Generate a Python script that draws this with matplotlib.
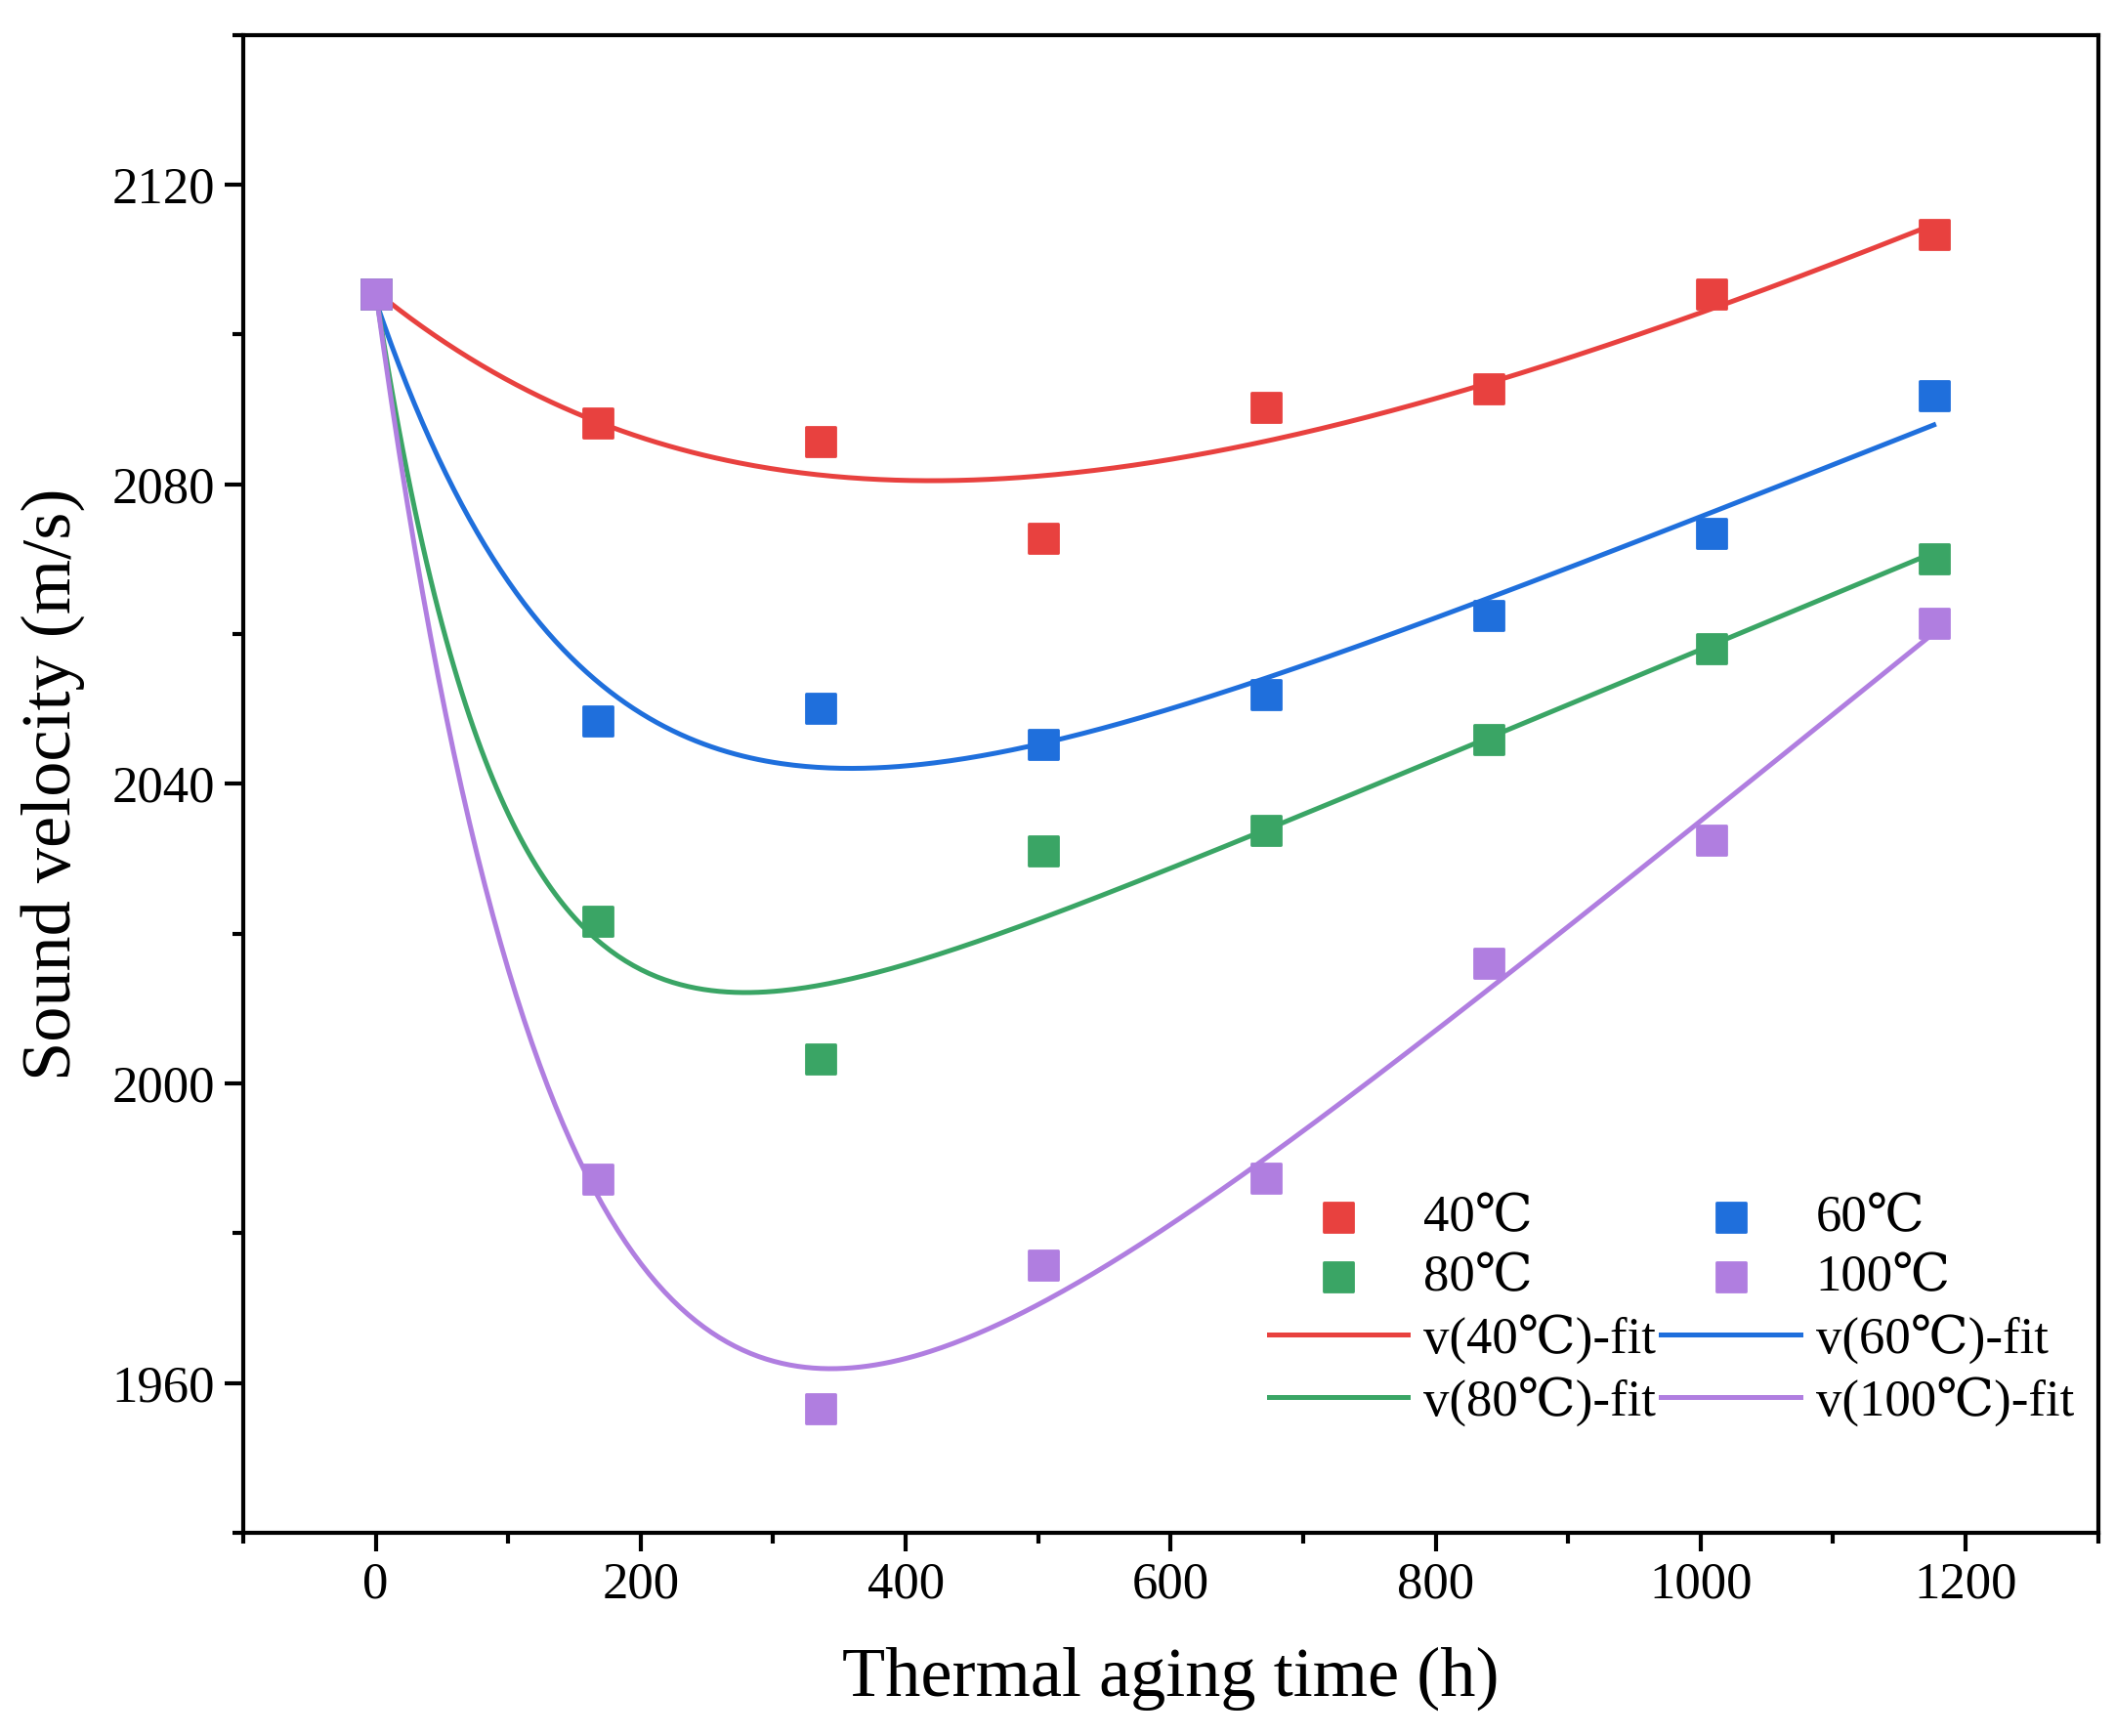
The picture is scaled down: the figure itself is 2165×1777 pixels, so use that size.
import numpy as np
import matplotlib.pyplot as plt
from matplotlib.ticker import MultipleLocator

plt.rcParams['font.family'] = ['Liberation Serif', 'DejaVu Serif']

# aging time (h)
t = np.array([0, 168, 336, 504, 672, 840, 1008, 1176])
v40 = [2105.4, 2088.2, 2085.7, 2072.8, 2090.2, 2092.7, 2105.4, 2113.3]
v60 = [2105.4, 2048.4, 2050.1, 2045.2, 2051.9, 2062.5, 2073.4, 2091.8]
v80 = [2105.4, 2021.7, 2003.3, 2031.1, 2033.8, 2045.9, 2058.0, 2070.1]
v100 = [2105.4, 1987.2, 1956.6, 1975.8, 1987.3, 2016.1, 2032.5, 2061.4]
labels = ['40℃', '60℃', '80℃', '100℃']
colors = ['#e8413f', '#1f6fdc', '#3aa565', '#b07ee0']


def fit(x, y):
    # y = a + b*t + d*exp(-t/tau), tau from a grid
    best = None
    for tau in np.linspace(20, 2000, 400):
        A = np.column_stack([np.ones_like(x, dtype=float), x, np.exp(-x / tau)])
        coef, res, *_ = np.linalg.lstsq(A, y, rcond=None)
        err = np.sum((A @ coef - y) ** 2)
        if best is None or err < best[0]:
            best = (err, tau, coef)
    _, tau, c = best
    return lambda z: c[0] + c[1] * z + c[2] * np.exp(-z / tau)


fig = plt.figure(figsize=(10.825, 8.885), dpi=200)
ax = fig.add_axes([0.115, 0.117, 0.877, 0.863])

xs = np.linspace(0, 1176, 400)
pts, lines = [], []
for y, lab, col in zip([v40, v60, v80, v100], labels, colors):
    y = np.array(y)
    p = ax.scatter(t, y, marker='s', s=110, color=col, label=lab, zorder=3)
    f = fit(t, y)
    l, = ax.plot(xs, f(xs), color=col, lw=1.8, label=f'v({lab})-fit')
    pts.append(p)
    lines.append(l)

ax.set_xlim(-100, 1300)
ax.set_ylim(1940, 2140)
ax.xaxis.set_major_locator(MultipleLocator(200))
ax.xaxis.set_minor_locator(MultipleLocator(100))
ax.yaxis.set_major_locator(MultipleLocator(40))
ax.yaxis.set_minor_locator(MultipleLocator(20))
ax.tick_params(which='both', direction='out', labelsize=19, width=1.5)
ax.tick_params(which='major', length=7)
ax.tick_params(which='minor', length=4)
for s in ax.spines.values():
    s.set_linewidth(1.5)
ax.set_xlabel('Thermal aging time (h)', fontsize=26, labelpad=14)
ax.set_ylabel('Sound velocity (m/s)', fontsize=26, labelpad=10)

handles = [pts[0], pts[2], lines[0], lines[2], pts[1], pts[3], lines[1], lines[3]]
ax.legend(handles=handles, labels=[h.get_label() for h in handles], ncol=2,
          frameon=False, fontsize=19, loc='lower right', bbox_to_anchor=(1.012, 0.04),
          columnspacing=0.1, handletextpad=0.3, labelspacing=0.25, handlelength=2.7)

fig.savefig('out.png', dpi=200)
